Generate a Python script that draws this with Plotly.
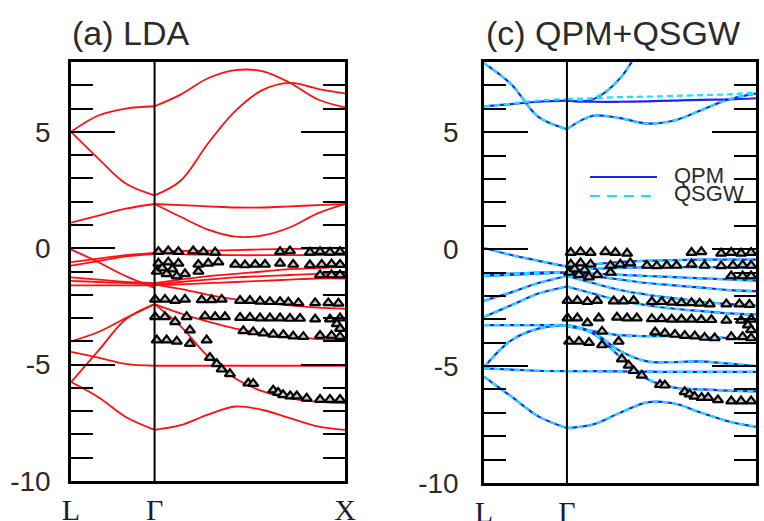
import plotly.graph_objects as go

# ---------------- data ----------------
k_ticks = [0.0, 0.305, 1.0]
k_labels = ["L", "Γ", "X"]
k_lg = [0.0, 0.1, 0.2, 0.305]
k_gx = [0.305, 0.4, 0.5, 0.6, 0.7, 0.8, 0.9, 1.0]
e_ticks = [-10, -5, 0, 5]
e_labels = ["-10", "-5", "0", "5"]

# LDA bands, L -> Gamma
lda_lg = [
    [5.0, 5.7, 6.0, 6.1],
    [5.0, 3.85, 2.78, 2.27],
    [1.1, 1.4, 1.7, 1.9],
    [-0.05, -0.6, -1.2, -1.7],
    [-0.6, -0.45, -0.3, -0.2],
    [-0.75, -0.55, -0.35, -0.25],
    [-1.25, -1.35, -1.45, -1.5],
    [-1.4, -1.45, -1.5, -1.55],
    [-1.6, -1.6, -1.6, -1.6],
    [-4.0, -3.6, -3.0, -2.4],
    [-5.75, -4.4, -3.05, -2.4],
    [-4.45, -4.7, -4.97, -5.05],
    [-5.75, -6.4, -7.25, -7.8],
]
# LDA bands, Gamma -> X
lda_gx = [
    [6.1, 6.6, 7.3, 7.65, 7.6, 7.1, 6.4, 6.05],
    [2.27, 2.9, 4.5, 5.9, 6.8, 7.1, 6.85, 6.65],
    [1.9, 1.85, 1.8, 1.75, 1.75, 1.8, 1.85, 1.9],
    [1.9, 1.35, 0.8, 0.5, 0.55, 0.9, 1.5, 1.9],
    [-0.15, -0.12, -0.1, -0.08, -0.05, -0.03, -0.02, 0.0],
    [-0.2, -0.25, -0.28, -0.3, -0.3, -0.3, -0.3, -0.3],
    [-1.5, -1.35, -1.2, -1.1, -1.0, -0.9, -0.85, -0.8],
    [-1.55, -1.45, -1.35, -1.25, -1.2, -1.15, -1.1, -1.1],
    [-1.6, -1.55, -1.5, -1.45, -1.4, -1.35, -1.3, -1.3],
    [-1.55, -1.75, -2.0, -2.2, -2.35, -2.45, -2.55, -2.6],
    [-2.4, -2.8, -3.15, -3.45, -3.65, -3.8, -3.9, -3.9],
    [-2.4, -3.35, -4.65, -5.6, -6.15, -6.45, -6.6, -6.65],
    [-5.05, -5.05, -5.05, -5.05, -5.05, -5.05, -5.05, -5.05],
    [-7.8, -7.6, -7.15, -6.8, -6.95, -7.3, -7.65, -7.8],
]

# QPM bands
qpm_lg = [
    [7.95, 7.05, 5.65, 5.13],
    [6.1, 6.2, 6.3, 6.35],
    [0.05, -0.25, -0.5, -0.75],
    [-1.1, -1.05, -1.0, -1.0],
    [-1.15, -1.1, -1.05, -1.0],
    [-2.2, -1.85, -1.45, -1.15],
    [-2.9, -2.4, -1.9, -1.6],
    [-3.25, -3.25, -3.25, -3.25],
    [-5.05, -3.9, -3.4, -3.25],
    [-5.1, -5.15, -5.2, -5.22],
    [-5.45, -6.3, -7.15, -7.65],
]
qpm_gx = [
    [5.13, 5.7, 5.6, 5.37, 5.5, 5.95, 6.4, 6.65],
    [6.35, 6.3, 6.3, 6.32, 6.35, 6.38, 6.4, 6.45],
    [6.35, 6.4, 7.3, 9.2],
    [-0.75, -0.65, -0.55, -0.5, -0.47, -0.45, -0.45, -0.45],
    [-0.9, -0.85, -0.8, -0.78, -0.77, -0.77, -0.78, -0.8],
    [-1.0, -1.05, -1.1, -1.15, -1.2, -1.25, -1.3, -1.35],
    [-1.0, -1.15, -1.3, -1.45, -1.55, -1.65, -1.75, -1.8],
    [-1.15, -1.45, -1.75, -1.95, -2.1, -2.25, -2.35, -2.4],
    [-1.6, -1.9, -2.2, -2.4, -2.55, -2.65, -2.75, -2.8],
    [-3.3, -3.5, -3.68, -3.72, -3.72, -3.75, -3.8, -3.86],
    [-3.25, -3.55, -4.35, -4.8, -4.83, -4.8, -4.9, -5.0],
    [-3.25, -3.6, -4.6, -5.55, -5.92, -6.0, -6.05, -6.08],
    [-5.22, -5.22, -5.23, -5.24, -5.25, -5.25, -5.25, -5.25],
    [-7.65, -7.5, -7.0, -6.55, -6.6, -7.0, -7.37, -7.6],
]

# QSGW bands
qsgw_lg = [
    [7.95, 7.05, 5.65, 5.13],
    [6.1, 6.22, 6.35, 6.42],
    [0.05, -0.25, -0.5, -0.75],
    [-1.1, -1.05, -1.0, -1.0],
    [-1.15, -1.1, -1.05, -1.0],
    [-2.2, -1.85, -1.45, -1.15],
    [-2.9, -2.4, -1.9, -1.6],
    [-3.25, -3.25, -3.25, -3.25],
    [-5.05, -3.9, -3.4, -3.25],
    [-5.1, -5.15, -5.2, -5.22],
    [-5.45, -6.3, -7.15, -7.65],
]
qsgw_gx = [
    [5.13, 5.7, 5.6, 5.37, 5.5, 5.95, 6.4, 6.65],
    [6.42, 6.45, 6.5, 6.52, 6.55, 6.58, 6.62, 6.7],
    [6.42, 6.45, 7.3, 9.2],
    [-0.75, -0.65, -0.55, -0.5, -0.47, -0.45, -0.45, -0.45],
    [-0.9, -0.85, -0.8, -0.78, -0.77, -0.77, -0.78, -0.8],
    [-1.0, -1.05, -1.1, -1.15, -1.2, -1.25, -1.3, -1.35],
    [-1.0, -1.15, -1.3, -1.45, -1.55, -1.65, -1.75, -1.8],
    [-1.15, -1.45, -1.75, -1.95, -2.1, -2.25, -2.35, -2.4],
    [-1.6, -1.9, -2.2, -2.4, -2.55, -2.65, -2.75, -2.8],
    [-3.3, -3.5, -3.68, -3.72, -3.72, -3.75, -3.8, -3.86],
    [-3.25, -3.55, -4.35, -4.8, -4.83, -4.8, -4.9, -5.0],
    [-3.25, -3.6, -4.6, -5.55, -5.92, -6.0, -6.05, -6.08],
    [-5.22, -5.22, -5.23, -5.24, -5.25, -5.25, -5.25, -5.25],
    [-7.65, -7.5, -7.0, -6.55, -6.6, -7.0, -7.37, -7.6],
]

# ARPES (experiment) points, Gamma -> X
arpes_k = [
    # row near -0.15
    0.319, 0.355, 0.392, 0.446, 0.483, 0.526, 0.763, 0.799, 0.872, 0.909, 0.945, 0.982,
    # row near -0.65
    0.319, 0.355, 0.392, 0.465, 0.501, 0.538, 0.599, 0.635, 0.672, 0.708, 0.763, 0.811,
    0.872, 0.915, 0.951, 0.982,
    # cluster near -1.0
    0.313, 0.333, 0.349, 0.370, 0.386, 0.416, 0.465, 0.909, 0.951, 0.982,
    # row near -2.25
    0.307, 0.343, 0.380, 0.416, 0.477, 0.513, 0.550, 0.617, 0.653, 0.690, 0.726, 0.763,
    0.793, 0.830, 0.891, 0.939, 0.976,
    # row near -2.95
    0.307, 0.343, 0.422, 0.489, 0.526, 0.562, 0.617, 0.653, 0.690, 0.726, 0.763, 0.799,
    0.836, 0.891, 0.945, 0.982, 0.970, 0.982,
    # row near -3.7
    0.629, 0.665, 0.702, 0.738, 0.775, 0.811, 0.848, 0.909, 0.951, 0.982,
    # row near -3.95
    0.313, 0.349, 0.386, 0.434, 0.495,
    # steep branch
    0.380, 0.434, 0.507, 0.532, 0.550, 0.580, 0.647, 0.665, 0.738, 0.756, 0.774, 0.800,
    0.824, 0.860, 0.909, 0.945, 0.982,
]
arpes_e = [
    -0.15, -0.12, -0.15, -0.12, -0.15, -0.18, -0.15, -0.12, -0.18, -0.15, -0.18, -0.15,
    -0.65, -0.6, -0.65, -0.7, -0.65, -0.6, -0.7, -0.72, -0.7, -0.7, -0.65, -0.7,
    -0.72, -0.7, -0.68, -0.7,
    -1.0, -0.85, -1.1, -0.9, -1.2, -1.1, -1.0, -1.15, -1.15, -1.15,
    -2.2, -2.2, -2.25, -2.2, -2.22, -2.22, -2.2, -2.25, -2.25, -2.28, -2.3, -2.3,
    -2.32, -2.35, -2.35, -2.35, -2.37,
    -2.95, -2.95, -2.95, -2.92, -2.95, -2.95, -2.98, -2.98, -3.0, -3.0, -3.0, -3.02,
    -3.02, -3.05, -3.05, -3.0, -3.25, -3.45,
    -3.55, -3.6, -3.65, -3.7, -3.72, -3.78, -3.8, -3.75, -3.75, -3.8,
    -3.95, -3.95, -4.0, -4.1, -3.95,
    -3.16, -3.52, -4.7, -4.97, -5.2, -5.4, -5.8, -5.82, -6.1, -6.2, -6.3, -6.35,
    -6.35, -6.45, -6.5, -6.5, -6.5,
]

# ---------------- figure ----------------
fig = go.Figure()

RED = "#ff1010"
BLUE = "#2424ee"
CYAN = "#14e4ff"

def add_bands(kgrid, bands, color, xa, ya, dash="solid", width=1.8):
    for band in bands:
        pts = list(zip(kgrid, band))
        fig.add_trace(go.Scatter(
            x=[p[0] for p in pts], y=[p[1] for p in pts],
            mode="lines", line=dict(color=color, width=width, dash=dash, shape="spline"),
            xaxis=xa, yaxis=ya, showlegend=False, hoverinfo="skip"))

add_bands(k_lg, lda_lg, RED, "x", "y")
add_bands(k_gx, lda_gx, RED, "x", "y")
add_bands(k_lg, qpm_lg, BLUE, "x2", "y2", width=2.2)
add_bands(k_gx, qpm_gx, BLUE, "x2", "y2", width=2.2)
add_bands(k_lg, qsgw_lg, CYAN, "x2", "y2", dash="6px,4px", width=2.2)
add_bands(k_gx, qsgw_gx, CYAN, "x2", "y2", dash="6px,4px", width=2.2)

for xa, ya in (("x", "y"), ("x2", "y2")):
    fig.add_trace(go.Scatter(
        x=arpes_k, y=arpes_e, mode="markers", xaxis=xa, yaxis=ya,
        marker=dict(symbol="triangle-up", size=9, color="#c8c8c8",
                    line=dict(color="black", width=2.2)),
        showlegend=False, hoverinfo="skip", cliponaxis=False))

yaxis_common = dict(
    range=[-10, 8], tickvals=e_ticks, ticktext=e_labels, ticks="inside", ticklen=44,
    tickwidth=2, tickcolor="black", showline=True, linecolor="black", linewidth=2.5,
    mirror="ticks", showgrid=False, zeroline=False, automargin=False,
    tickfont=dict(family="Liberation Sans, Arial", size=28, color="#2b2b2b"),
    minor=dict(dtick=1, ticks="inside", ticklen=22, tickwidth=2, tickcolor="black",
               showgrid=False),
)
xaxis_common = dict(
    range=[0, 1], tickvals=k_ticks, ticktext=k_labels, ticks="", showline=True,
    linecolor="black", linewidth=2.5, mirror=True, showgrid=False, zeroline=False,
    automargin=False,
    tickfont=dict(family="Liberation Serif, Times New Roman", size=30, color="#1a1a3a"),
    ticklabelstandoff=0,
)

fig.update_layout(
    width=764, height=521, margin=dict(l=0, r=0, t=0, b=0, autoexpand=False),
    paper_bgcolor="white", plot_bgcolor="white", showlegend=False,
    xaxis=dict(domain=[71 / 764, 345 / 764], anchor="y", **xaxis_common),
    yaxis=dict(domain=[1 - 481 / 521, 1 - 62 / 521], anchor="x", ticklabelstandoff=12,
               **yaxis_common),
    xaxis2=dict(domain=[484 / 764, 756 / 764], anchor="y2", **xaxis_common),
    yaxis2=dict(domain=[1 - 483 / 521, 1 - 62 / 521], anchor="x2", ticklabelstandoff=17,
                **yaxis_common),
)

# Gamma separator lines
for xa, yd in (("x", "y domain"), ("x2", "y2 domain")):
    fig.add_shape(type="line", xref=xa, yref=yd, x0=k_ticks[1], x1=k_ticks[1], y0=0, y1=1,
                  line=dict(color="black", width=2))

# panel titles
title_font = dict(family="Liberation Sans, Arial", size=34, color="#2b2b2b")
fig.add_annotation(text="(a) LDA", xref="paper", yref="paper", x=70 / 764, y=1 - 33 / 521,
                   xanchor="left", yanchor="middle", showarrow=False, font=title_font)
fig.add_annotation(text="(c) QPM+QSGW", xref="paper", yref="paper", x=484 / 764, y=1 - 33 / 521,
                   xanchor="left", yanchor="middle", showarrow=False, font=title_font)

# legend (right panel)
leg_font = dict(family="Liberation Sans, Arial", size=22, color="#2b2b2b")
fig.add_shape(type="line", xref="paper", yref="paper", x0=590 / 764, x1=657 / 764,
              y0=1 - 177 / 521, y1=1 - 177 / 521, line=dict(color=BLUE, width=2.2))
fig.add_shape(type="line", xref="paper", yref="paper", x0=590 / 764, x1=657 / 764,
              y0=1 - 196 / 521, y1=1 - 196 / 521, line=dict(color=CYAN, width=2.2, dash="10px,7px"))
fig.add_annotation(text="QPM", xref="paper", yref="paper", x=672 / 764, y=1 - 175 / 521,
                   xanchor="left", yanchor="middle", showarrow=False, font=leg_font)
fig.add_annotation(text="QSGW", xref="paper", yref="paper", x=672 / 764, y=1 - 193 / 521,
                   xanchor="left", yanchor="middle", showarrow=False, font=leg_font)

fig.write_html(
    "out.html",
    config={"displayModeBar": False},
    post_script="document.body.style.margin='0';document.body.style.overflow='hidden';",
)
